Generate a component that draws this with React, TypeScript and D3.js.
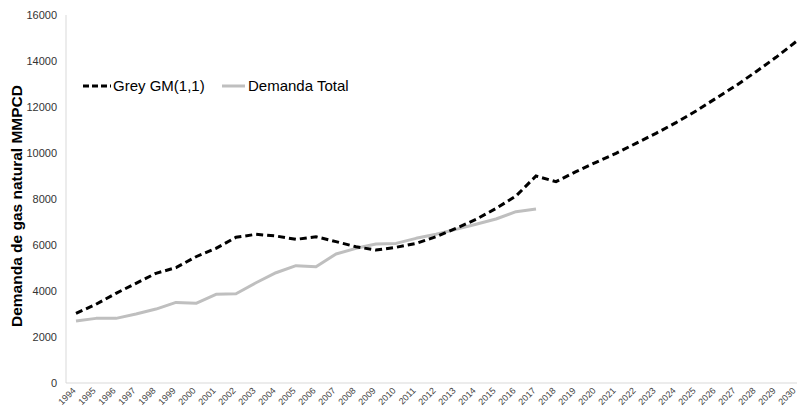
import React, { useEffect, useRef } from "react";
import * as d3 from "d3";

const years = d3.range(1994, 2031).map(String);

// Grey GM(1,1) model, 1994-2030
const greyValues = [
  3030, 3420, 3900, 4335, 4770, 5015, 5490, 5855, 6335, 6465, 6390, 6245, 6360,
  6145, 5925, 5780, 5900, 6070, 6360, 6725, 7115, 7590, 8130, 9000, 8755, 9190,
  9595, 9985, 10420, 10855, 11320, 11825, 12380, 12930, 13535, 14160, 14840,
];

// Demanda Total, 1994-2017
const demandValues = [
  2695, 2810, 2810, 3000, 3215, 3505, 3465, 3855, 3880, 4360, 4795, 5100, 5055,
  5610, 5855, 6045, 6070, 6290, 6465, 6680, 6900, 7130, 7450, 7565,
];

const yTicks = [0, 2000, 4000, 6000, 8000, 10000, 12000, 14000, 16000];

const W = 797;
const H = 411;
const margin = { left: 66, top: 15, bottom: 28 };
const FONT = "Liberation Sans, Arial, sans-serif";

export default function App() {
  const ref = useRef<SVGSVGElement>(null);

  useEffect(() => {
    const svg = d3.select(ref.current);
    svg.selectAll("*").remove();

    const bandW = 20;
    const x = d3
      .scaleBand()
      .domain(years)
      .range([margin.left, margin.left + bandW * years.length]);
    const y = d3
      .scaleLinear()
      .domain([0, 16000])
      .range([H - margin.bottom, margin.top]);
    const cx = (yr: string) => (x(yr) as number) + x.bandwidth() / 2;

    // axis lines
    svg
      .append("line")
      .attr("x1", margin.left)
      .attr("x2", margin.left)
      .attr("y1", y(16000))
      .attr("y2", y(0))
      .attr("stroke", "#d9d9d9");
    svg
      .append("line")
      .attr("x1", margin.left)
      .attr("x2", W)
      .attr("y1", y(0))
      .attr("y2", y(0))
      .attr("stroke", "#d9d9d9");

    // y tick labels
    svg
      .append("g")
      .selectAll("text")
      .data(yTicks)
      .join("text")
      .attr("x", 57)
      .attr("y", (d) => y(d))
      .attr("dy", "0.35em")
      .attr("text-anchor", "end")
      .attr("font-family", FONT)
      .attr("font-size", 11)
      .attr("fill", "#333")
      .text((d) => d);

    // x tick labels, rotated
    svg
      .append("g")
      .selectAll("text")
      .data(years)
      .join("text")
      .attr("transform", (d) => `translate(${cx(d) - 2},${y(0) + 6}) rotate(-45)`)
      .attr("text-anchor", "end")
      .attr("dy", "0.35em")
      .attr("font-family", FONT)
      .attr("font-size", 9)
      .attr("fill", "#444")
      .text((d) => d);

    // y axis title
    svg
      .append("text")
      .attr("transform", `translate(22,${(y(0) + y(16000)) / 2 + 7}) rotate(-90)`)
      .attr("text-anchor", "middle")
      .attr("font-family", FONT)
      .attr("font-weight", "bold")
      .attr("font-size", 15.5)
      .attr("fill", "#000")
      .text("Demanda de gas natural MMPCD");

    const line = d3
      .line<number>()
      .x((_, i) => cx(years[i]))
      .y((d) => y(d));

    svg
      .append("path")
      .attr("d", line(demandValues))
      .attr("fill", "none")
      .attr("stroke", "#bfbfbf")
      .attr("stroke-width", 3)
      .attr("stroke-linejoin", "round");

    svg
      .append("path")
      .attr("d", line(greyValues))
      .attr("fill", "none")
      .attr("stroke", "#000")
      .attr("stroke-width", 3)
      .attr("stroke-dasharray", "7,4");

    // legend
    const lg = svg.append("g").attr("transform", "translate(83,86)");
    lg.append("line")
      .attr("x1", 0)
      .attr("x2", 28)
      .attr("stroke", "#000")
      .attr("stroke-width", 3)
      .attr("stroke-dasharray", "6,3");
    lg.append("text")
      .attr("x", 30)
      .attr("dy", "0.35em")
      .attr("font-family", FONT)
      .attr("font-size", 15)
      .attr("fill", "#000")
      .text("Grey GM(1,1)");
    lg.append("line")
      .attr("x1", 139)
      .attr("x2", 162)
      .attr("stroke", "#bfbfbf")
      .attr("stroke-width", 3);
    lg.append("text")
      .attr("x", 165)
      .attr("dy", "0.35em")
      .attr("font-family", FONT)
      .attr("font-size", 15)
      .attr("fill", "#000")
      .text("Demanda Total");
  }, []);

  return (
    <svg
      ref={ref}
      width={W}
      height={H}
      style={{ position: "absolute", left: 0, top: 0, background: "#fff" }}
    />
  );
}
